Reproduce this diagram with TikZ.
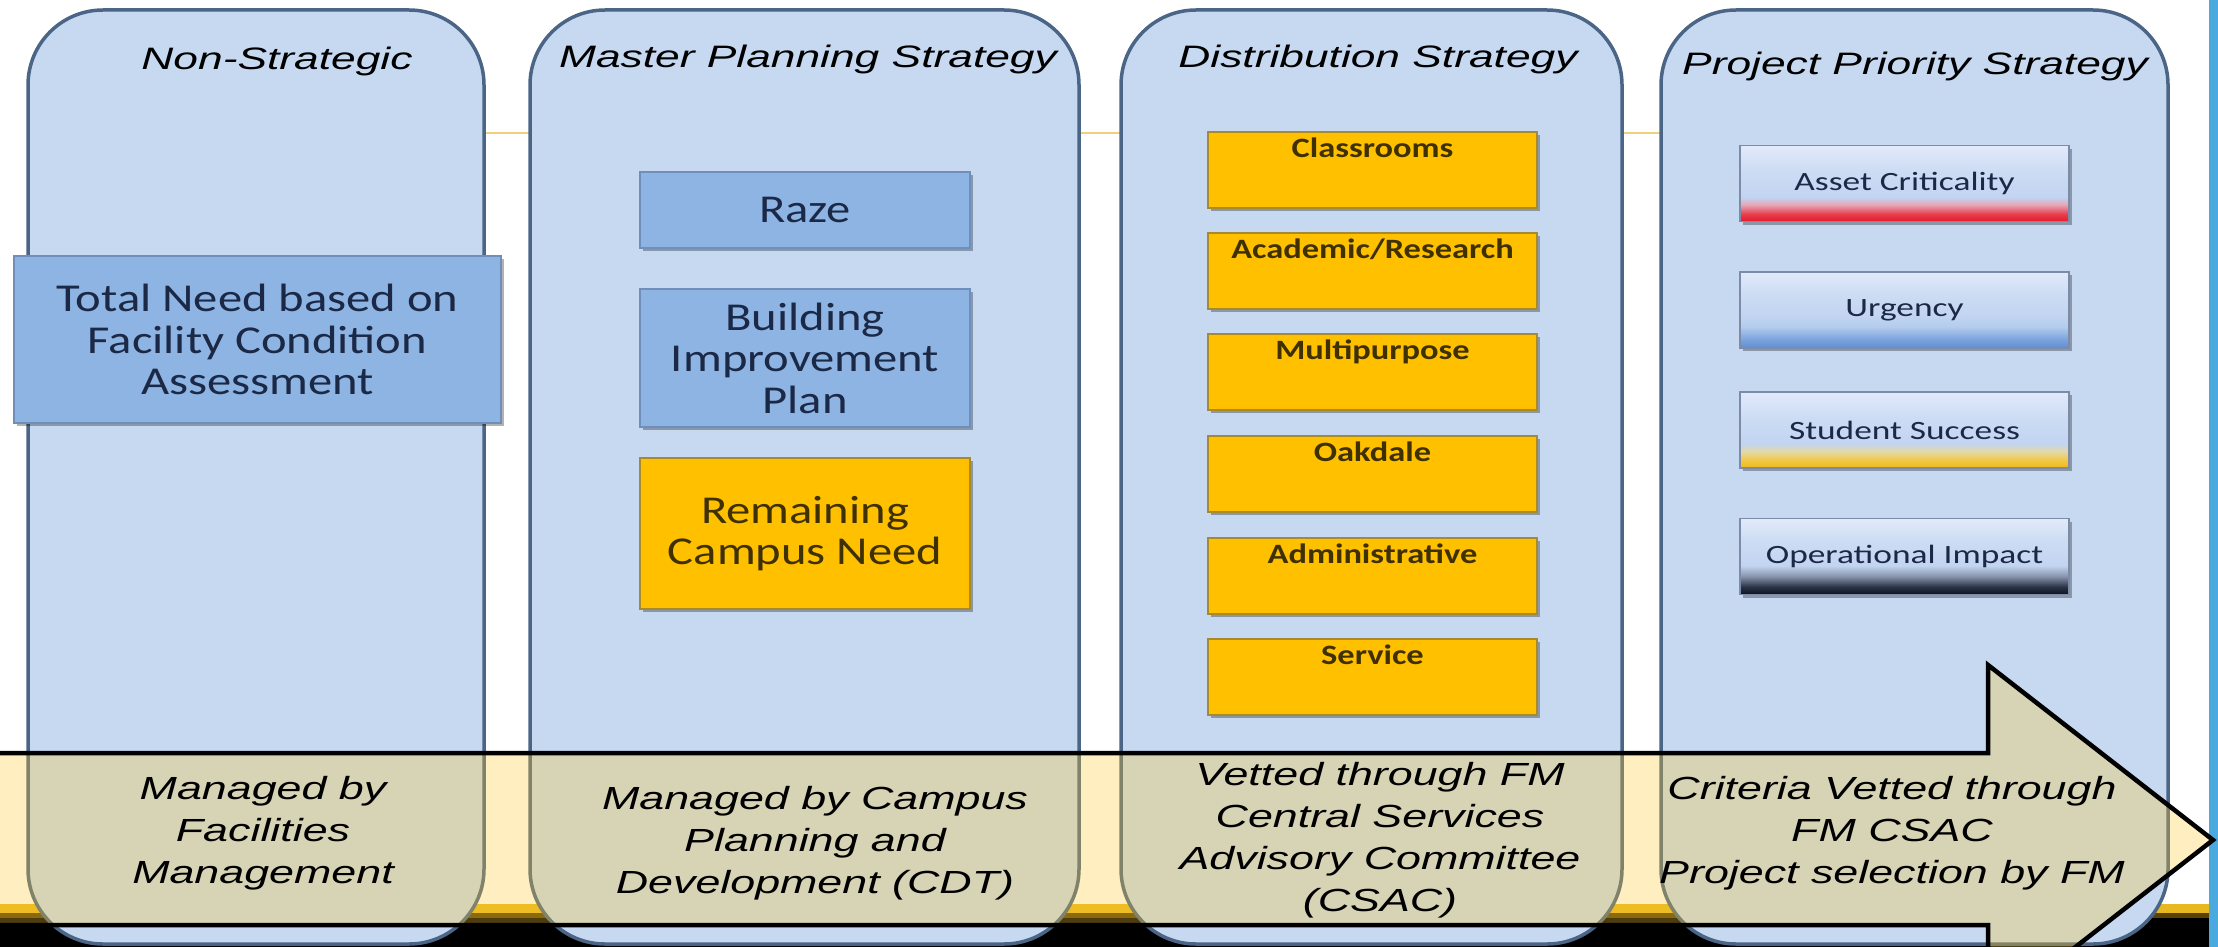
\documentclass[tikz,border=0pt]{standalone}
\usepackage{tikz}
\usepackage{fontspec}
\usetikzlibrary{shadows}
\newfontfamily\hdrfont[FakeStretch=1.43]{Liberation Sans}
\newfontfamily\botfont[FakeStretch=1.40]{Liberation Sans}
\newfontfamily\boxfont[FakeStretch=1.23]{Carlito}
\newfontfamily\prifont[FakeStretch=1.34]{Carlito}

\definecolor{colfill}{HTML}{C6D9F1}
\definecolor{colline}{HTML}{4A6585}
\definecolor{bluebox}{HTML}{8DB4E2}
\definecolor{blueline}{HTML}{6F8FBA}
\definecolor{goldbox}{HTML}{FFC000}
\definecolor{goldline}{HTML}{A88A2C}
\definecolor{navytext}{HTML}{1B2846}
\definecolor{browntext}{HTML}{3F3000}
\definecolor{arrowfill}{HTML}{FFC72C}
\definecolor{bandgold}{HTML}{E8B820}
\definecolor{banddark}{HTML}{5A4200}
\definecolor{edgeblue}{HTML}{4AAAE0}
\definecolor{faintyellow}{HTML}{EED27A}
\definecolor{priline}{HTML}{7C8CA8}
\definecolor{plA}{HTML}{E2EAFA}
\definecolor{plB}{HTML}{CCDCF4}
\definecolor{plC}{HTML}{C2D4F1}
\definecolor{critA}{HTML}{E8182A}
\definecolor{critB}{HTML}{E6404E}
\definecolor{critC}{HTML}{E6A6B6}
\definecolor{urgA}{HTML}{5F8FD0}
\definecolor{urgB}{HTML}{7DA5DD}
\definecolor{urgC}{HTML}{B4CCEE}
\definecolor{stuA}{HTML}{EEB818}
\definecolor{stuB}{HTML}{F2C842}
\definecolor{stuC}{HTML}{E4D8A8}
\definecolor{opA}{HTML}{0C1220}
\definecolor{opB}{HTML}{2A3244}
\definecolor{opC}{HTML}{8894AC}

\pgfdeclareverticalshading{critshade}{100bp}{color(0bp)=(critA); color(25bp)=(critA); color(30bp)=(critB); color(36bp)=(critC); color(41bp)=(plC); color(58bp)=(plB); color(75bp)=(plA); color(100bp)=(plA)}
\pgfdeclareverticalshading{urgshade}{100bp}{color(0bp)=(urgA); color(25bp)=(urgA); color(31bp)=(urgB); color(39bp)=(urgC); color(46bp)=(plC); color(60bp)=(plB); color(75bp)=(plA); color(100bp)=(plA)}
\pgfdeclareverticalshading{stushade}{100bp}{color(0bp)=(stuA); color(25bp)=(stuA); color(30bp)=(stuB); color(36bp)=(stuC); color(41bp)=(plC); color(58bp)=(plB); color(75bp)=(plA); color(100bp)=(plA)}
\pgfdeclareverticalshading{opshade}{100bp}{color(0bp)=(opA); color(25bp)=(opA); color(30bp)=(opB); color(37bp)=(opC); color(44bp)=(plC); color(60bp)=(plB); color(75bp)=(plA); color(100bp)=(plA)}

\begin{document}
\begin{tikzpicture}[x=1pt,y=-1pt,
  column/.style={draw=colline, line width=3.5pt, fill=colfill, rounded corners=75pt, inner sep=0pt},
  hdr/.style={font=\hdrfont\itshape\fontsize{31}{35}\selectfont, text=black, inner sep=0pt, anchor=base},
  bot/.style={font=\botfont\itshape\fontsize{32}{42}\selectfont, text=black, align=center, inner sep=0pt},
  shad/.style={drop shadow={shadow xshift=2.5pt, shadow yshift=-3pt, fill=black, opacity=0.3}},
  bluebx/.style={shad, draw=blueline, line width=1.2pt, fill=bluebox, inner sep=0pt, align=center,
    font=\boxfont\fontsize{39.5}{41.5}\selectfont, text=navytext},
  goldbx/.style={shad, draw=goldline, line width=1.2pt, fill=goldbox, inner sep=0pt, align=center,
    font=\boxfont\fontsize{39.5}{41.5}\selectfont, text=browntext},
  distbx/.style={shad, draw=goldline, line width=1.2pt, fill=goldbox, inner sep=0pt,
    minimum width=329pt, minimum height=76pt},
  disttxt/.style={font=\boxfont\bfseries\fontsize{28}{30}\selectfont, text=browntext, inner sep=0pt, anchor=base},
  pribx/.style={shad, draw=priline, line width=1.2pt, inner sep=0pt, minimum width=329pt, minimum height=76pt,
    font=\prifont\fontsize{26.4}{30}\selectfont, text=navytext},
  arrowshape/.style={draw=black, line width=4.5pt, line join=miter, fill=arrowfill, fill opacity=0.3}
]
\useasboundingbox (0,0) rectangle (2218,947);
\clip (0,0) rectangle (2218,947);

% background
\fill[white] (0,0) rectangle (2218,947);
\draw[faintyellow, line width=2pt] (440,133) -- (1700,133);
\fill[bandgold] (0,904) rectangle (2209,913);
\fill[banddark] (0,913) rectangle (2209,918);
\fill[black] (0,918) rectangle (2209,947);
\fill[edgeblue] (2209,0) rectangle (2218,947);

% columns
\node[column, minimum width=456pt, minimum height=934pt] (c1) at (256,477) {};
\node[column, minimum width=549pt, minimum height=934pt] (c2) at (804.5,477) {};
\node[column, minimum width=501pt, minimum height=934pt] (c3) at (1371.5,477) {};
\node[column, minimum width=507pt, minimum height=934pt] (c4) at (1914.5,477) {};

% headers
\node[hdr] (h1) at (277,70) {Non-Strategic};
\node[hdr] (h2) at (808,68) {Master Planning Strategy};
\node[hdr] (h3) at (1378,68) {Distribution Strategy};
\node[hdr] (h4) at (1915,75) {Project Priority Strategy};

% column 1
\node[bluebx, minimum width=487pt, minimum height=167pt] (tn) at (257.5,339.5)
  {Total Need based on\\Facility Condition\\Assessment};

% column 2
\node[bluebx, minimum width=330pt, minimum height=76pt] (raze) at (805,210) {Raze};
\node[bluebx, minimum width=330pt, minimum height=138pt] (bip) at (805,358) {Building\\Improvement\\Plan};
\node[goldbx, minimum width=330pt, minimum height=151pt] (rcn) at (805,533.5) {Remaining\\Campus Need};

% column 3
\node[distbx] (d1) at (1372.5,170) {};
\node[distbx] (d2) at (1372.5,271) {};
\node[distbx] (d3) at (1372.5,372) {};
\node[distbx] (d4) at (1372.5,474) {};
\node[distbx] (d5) at (1372.5,576) {};
\node[distbx] (d6) at (1372.5,677) {};
\node[disttxt] (t1) at ([yshift=-26.5pt]d1.north) {Classrooms};
\node[disttxt] (t2) at ([yshift=-26.5pt]d2.north) {Academic/Research};
\node[disttxt] (t3) at ([yshift=-26.5pt]d3.north) {Multipurpose};
\node[disttxt] (t4) at ([yshift=-26.5pt]d4.north) {Oakdale};
\node[disttxt] (t5) at ([yshift=-26.5pt]d5.north) {Administrative};
\node[disttxt] (t6) at ([yshift=-26.5pt]d6.north) {Service};

% column 4
\node[pribx, shading=critshade] (p1) at (1904.5,183.5) {Asset Criticality};
\node[pribx, shading=urgshade] (p2) at (1904.5,310) {Urgency};
\node[pribx, shading=stushade] (p3) at (1904.5,430) {Student Success};
\node[pribx, shading=opshade] (p4) at (1904.5,556.5) {Operational Impact};

% big arrow
\coordinate (atl) at (-10,753);
\coordinate (ahb) at (1988,753);
\coordinate (aht) at (1988,665);
\coordinate (tip) at (2213,840);
\coordinate (ahl) at (1988,1015);
\coordinate (asb) at (1988,925);
\coordinate (abl) at (-10,925);
\draw[arrowshape] (atl) -- (ahb) -- (aht) -- (tip) -- (ahl) -- (asb) -- (abl) -- cycle;

% bottom texts
\node[bot] (b1) at (263,833) {Managed by\\Facilities\\Management};
\node[bot] (b2) at (815,843) {Managed by Campus\\Planning and\\Development (CDT)};
\node[bot] (b3) at (1380,840) {Vetted through FM\\Central Services\\Advisory Committee\\(CSAC)};
\node[bot] (b4) at (1892,833) {Criteria Vetted through\\FM CSAC\\Project selection by FM};
\end{tikzpicture}
\end{document}
